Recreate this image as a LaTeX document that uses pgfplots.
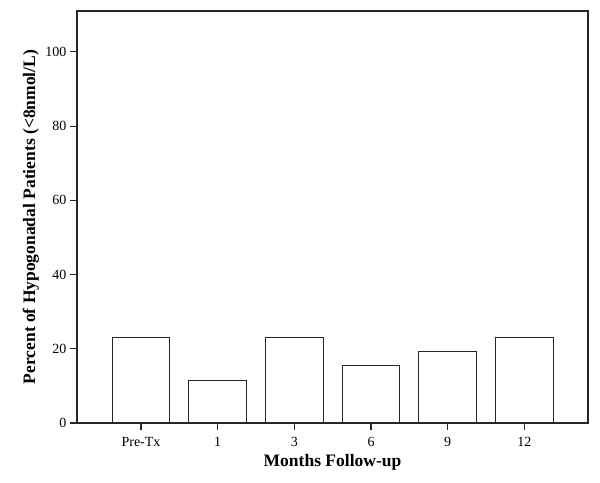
\documentclass[border=0pt]{standalone}
\usepackage{fontspec}
\setmainfont{Liberation Serif}
\usepackage{pgfplots}
\pgfplotsset{compat=1.18}
\begin{document}
\begin{tikzpicture}
\begin{axis}[
  name=ax,
  scale only axis,
  width=511pt, height=412pt,
  xmin=-0.835, xmax=5.83,
  ymin=0, ymax=111,
  xtick={0,1,2,3,4,5},
  xticklabels={Pre-Tx,1,3,6,9,12},
  ytick={0,20,40,60,80,100},
  tick align=outside,
  xtick pos=left, ytick pos=left,
  major tick length=7pt,
  axis line style={line width=1.1pt, black!85},
  xtick style={line width=1.1pt, black!85},
  ytick style={line width=1.1pt, black!85},
  tick label style={font=\fontsize{14}{16}\selectfont},
  xticklabel style={yshift=-4pt},
  /pgf/number format/assume math mode=true,
  xlabel={\textbf{Months Follow-up}},
  ylabel={\textbf{Percent of Hypogonadal Patients (<8nmol/L)}},
  label style={font=\fontsize{17.5}{20}\selectfont},
  xlabel style={at={(axis description cs:0.5,0)}, anchor=base, yshift=-44pt},
  ylabel style={at={(axis description cs:-0.09,0.5)}, anchor=center, rotate=0},
  ybar, bar width=57.5pt,
]
\addplot[draw=black!85, line width=1.1pt, fill=white] coordinates {
  (0,23.1) (1,11.5) (2,23.1) (3,15.4) (4,19.2) (5,23.1)
};
\end{axis}
\pgfresetboundingbox
\path[use as bounding box] ([xshift=-77pt,yshift=-60pt]ax.south west) rectangle ([xshift=12pt,yshift=11pt]ax.north east);
\end{tikzpicture}
\end{document}
